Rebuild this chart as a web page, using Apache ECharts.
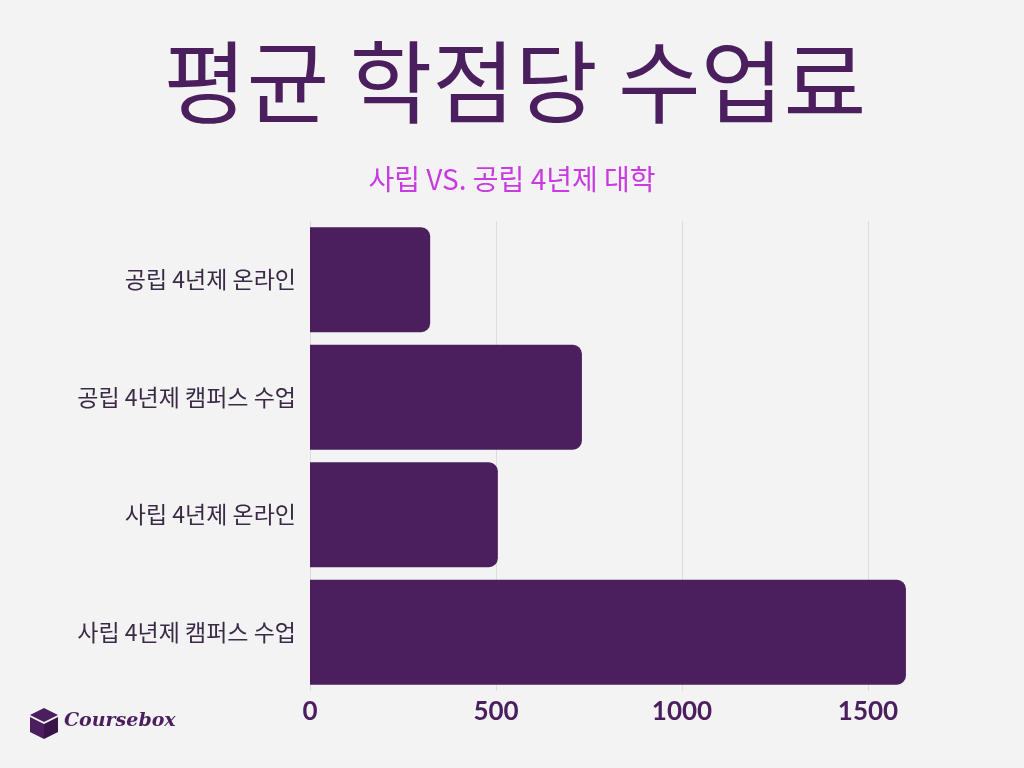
<!DOCTYPE html><html><head><meta charset="utf-8">
<script src="https://cdn.jsdelivr.net/npm/echarts@6/dist/echarts.min.js"></script>
<style>html,body{margin:0;padding:0;background:#f3f3f3;}#c{width:1024px;height:768px;}</style></head>
<body><div id="c"></div><script>
const categories = ['사립 4년제 캠퍼스 수업','사립 4년제 온라인','공립 4년제 캠퍼스 수업','공립 4년제 온라인'];
const values = [1602, 505, 731, 323];
const ticks = [0, 500, 1000, 1500];
const purple = '#4b1f5e';
const chart = echarts.init(document.getElementById('c'));
chart.setOption({
  backgroundColor: '#f3f3f3',
  title: [
    {text: '평균 학점당 수업료', left: 510, textAlign: 'center', top: 32, textStyle: {fontFamily: 'Noto Sans CJK KR', fontSize: 90, fontWeight: 'normal', color: purple}},
    {text: '사립 VS. 공립 4년제 대학', left: 507, textAlign: 'center', top: 160, textStyle: {fontFamily: 'Noto Sans CJK KR', fontSize: 28, fontWeight: 'normal', color: '#c93ae0'}}
  ],
  graphic: [
    {type: 'polygon', shape: {points: [[30,715],[44,708],[58,715],[44,722]]}, style: {fill: purple}},
    {type: 'polygon', shape: {points: [[30,717],[44,724],[44,739],[30,732]]}, style: {fill: purple}},
    {type: 'polygon', shape: {points: [[58,717],[44,724],[44,739],[58,732]]}, style: {fill: '#3a1449'}},
    {type: 'text', left: 64, top: 712, style: {text: 'Coursebox', fill: purple, font: 'italic bold 19px "DejaVu Serif"'}}
  ],
  grid: {left: 310, right: 34, top: 221, height: 470, containLabel: false},
  xAxis: {type: 'value', min: 0, max: 1828, interval: 500,
    axisLabel: {color: purple, fontFamily: 'Lato', fontWeight: 'bold', fontSize: 26, margin: 8, showMaxLabel: false, formatter: v => ticks.includes(v) ? String(v) : ''},
    axisLine: {show: false}, axisTick: {show: false},
    splitLine: {showMaxLine: false, lineStyle: {color: '#dcdcdc', width: 1}}},
  yAxis: {type: 'category', data: categories,
    axisLine: {show: false}, axisTick: {show: false},
    axisLabel: {color: '#3a2a45', fontFamily: 'Noto Sans CJK KR', fontSize: 23, margin: 14}},
  series: [{type: 'bar', data: values, barWidth: 105, itemStyle: {color: purple, borderRadius: [0, 9, 9, 0]}}]
});
</script></body></html>
